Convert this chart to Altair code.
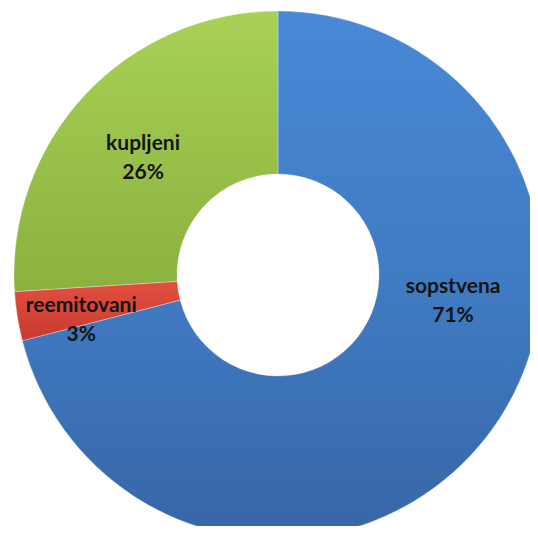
import altair as alt
import pandas as pd

categories = ["sopstvena", "reemitovani", "kupljeni"]
values = [71, 3, 26]

df = pd.DataFrame({"category": categories, "value": values})
total = sum(values)

fills = {
    "sopstvena": {"gradient": "linear", "x1": 0, "y1": 0, "x2": 0, "y2": 1,
                  "stops": [{"offset": 0, "color": "#4888D6"},
                            {"offset": 0.5, "color": "#407CC4"},
                            {"offset": 1, "color": "#3766A6"}]},
    "reemitovani": {"gradient": "linear", "x1": 0, "y1": 0, "x2": 0, "y2": 1,
                    "stops": [{"offset": 0, "color": "#E2503F"},
                              {"offset": 1, "color": "#C83A30"}]},
    "kupljeni": {"gradient": "linear", "x1": 0, "y1": 0, "x2": 0, "y2": 1,
                 "stops": [{"offset": 0, "color": "#A8D155"},
                           {"offset": 1, "color": "#8BB13F"}]},
}
label_offsets = {
    "sopstvena": (32, -99),
    "reemitovani": (-18, 3),
    "kupljeni": (-3, -7),
}

CX, CY = 270, 267
R_OUT, R_IN, R_LAB = 264, 101, 181

base = alt.Chart(df).transform_window(
    idx="row_number()"
).transform_window(
    end="sum(value)", frame=[None, 0], sort=[alt.SortField("idx")]
).transform_calculate(
    start="datum.end - datum.value",
    mid="datum.end - datum.value / 2",
    label="datum.category + '\\n' + datum.value + '%'",
)

theta_scale = alt.Scale(domain=[0, total], range=[0, 6.283185307179586])

layers = []
for cat in categories:
    layers.append(
        base.transform_filter(alt.datum.category == cat).mark_arc(
            fill=fills[cat], stroke="#ffffff", strokeWidth=0.6, strokeOpacity=0.5,
            outerRadius=R_OUT, innerRadius=R_IN, clip=True,
        ).encode(
            theta=alt.Theta("start:Q", scale=theta_scale),
            theta2="end:Q",
            x=alt.value(CX),
            y=alt.value(CY),
        )
    )
for cat in categories:
    dx, dy = label_offsets[cat]
    layers.append(
        base.transform_filter(alt.datum.category == cat).mark_text(
            font="Lato", fontWeight="bold", fontSize=21, lineHeight=29,
            lineBreak="\n", color="#141414", align="center", baseline="middle",
            dx=dx, dy=dy,
        ).encode(
            theta=alt.Theta("mid:Q", scale=theta_scale),
            radius=alt.value(R_LAB),
            x=alt.value(CX),
            y=alt.value(CY),
            text="label:N",
        )
    )

chart = alt.layer(*layers).properties(
    width=522, height=518, padding=0,
    autosize=alt.AutoSizeParams(type="none"),
).configure_view(stroke=None)

chart.save("out.html", embed_options={"renderer": "svg", "actions": False})
